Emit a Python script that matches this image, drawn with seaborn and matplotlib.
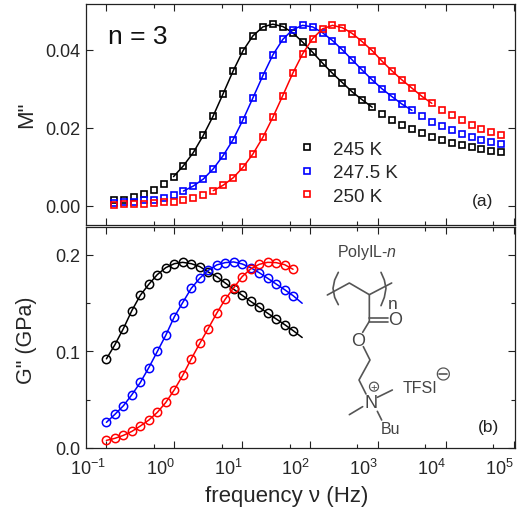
import seaborn as sns
import matplotlib.pyplot as plt
import pandas as pd
from matplotlib.lines import Line2D
from matplotlib.patches import Arc
from matplotlib.ticker import FixedLocator, NullFormatter

sns.set_style("white")
plt.rcParams['font.family'] = ['Liberation Sans', 'DejaVu Sans']
plt.rcParams['mathtext.fontset'] = 'custom'
plt.rcParams['mathtext.rm'] = 'Liberation Sans'
plt.rcParams['mathtext.it'] = 'Liberation Sans:italic'
plt.rcParams['mathtext.default'] = 'rm'

W, H = 518, 510

# M'' panel data
freq_m = [0.129, 0.181, 0.253, 0.354, 0.496, 0.695, 0.974, 1.364, 1.91, 2.68,
          3.75, 5.25, 7.36, 10.3, 14.4, 20.2, 28.3, 39.7, 55.6, 77.8,
          109, 153, 214, 300, 420, 588, 824, 1154, 1617, 2265,
          3173, 4444, 6226, 8721, 12217, 17113, 23972, 33580, 47040, 65900]
m_245 = [.0013, .0015, .0021, .0030, .0040, .0056, .0074, .0102, .0136, .0180,
         .0230, .0287, .0345, .0397, .0435, .0458, .0465, .0459, .0443, .0419,
         .0393, .0365, .0339, .0315, .0291, .0271, .0252, .0235, .0220, .0207,
         .0196, .0185, .0176, .0168, .0161, .0155, .0149, .0144, .0140, .0136]
m_2475 = [.0007, .0009, .0010, .0013, .0015, .0020, .0026, .0037, .0050, .0068,
          .0094, .0128, .0169, .0220, .0276, .0333, .0386, .0426, .0451, .0462,
          .0458, .0443, .0423, .0399, .0373, .0347, .0322, .0299, .0279, .0260,
          .0244, .0229, .0215, .0203, .0193, .0184, .0175, .0168, .0162, .0157]
m_250 = [.0002, .0003, .0003, .0004, .0006, .0008, .0010, .0015, .0020, .0027,
         .0038, .0052, .0071, .0098, .0132, .0175, .0226, .0282, .0339, .0389,
         .0428, .0453, .0462, .0456, .0441, .0420, .0397, .0370, .0345, .0322,
         .0301, .0280, .0262, .0245, .0232, .0219, .0207, .0197, .0188, .0180]

# G'' panel data
freq_g = [0.1, 0.133, 0.178, 0.237, 0.316, 0.422, 0.562, 0.75, 1, 1.33, 1.78, 2.37,
          3.16, 4.22, 5.62, 7.5, 10, 13.3, 17.8, 23.7, 31.6, 42.2, 56.2]
g_245 = [.0924, .1069, .1238, .1424, .1583, .1697, .1797, .1869, .1910, .1924, .1910, .1880,
         .1824, .1776, .1710, .1645, .1583, .1520, .1459, .1397, .1338, .1279, .1217]
g_2475 = [.0266, .0348, .0438, .0552, .0679, .0834, .1000, .1169, .1359, .1507, .1655, .1759,
          .1841, .1897, .1921, .1928, .1907, .1869, .1817, .1759, .1700, .1641, .1579]
g_250 = [.0079, .0100, .0131, .0172, .0228, .0290, .0369, .0472, .0603, .0752, .0924, .1083,
         .1238, .1397, .1541, .1659, .1776, .1855, .1903, .1924, .1921, .1900, .1852]
# fit lines run a little past the last symbol
fit_end_freq = 76.6
fit_end_245 = .1145
fit_end_2475 = .1500

labels = ['245 K', '247.5 K', '250 K']
colors = ['black', '#0000ff', '#ff0000']
m_series = [m_245, m_2475, m_250]
g_series = [g_245, g_2475, g_250]
m_fit_range = [(6, 27), (7, 31), (10, 33)]

fig = plt.figure(figsize=(W / 100, H / 100), dpi=100)
ax_a = fig.add_axes([86 / W, 1 - 226 / H, 428.5 / W, 221.5 / H])
ax_b = fig.add_axes([86 / W, 1 - 449 / H, 428.5 / W, 220.7 / H])

# top panel
for vals, col, lab, (i0, i1) in zip(m_series, colors, labels, m_fit_range):
    df = pd.DataFrame({'f': freq_m, 'y': vals})
    sns.lineplot(data=df.iloc[i0:i1], x='f', y='y', color=col, lw=1.1, ax=ax_a,
                 estimator=None, legend=False)
    sns.lineplot(data=df, x='f', y='y', ax=ax_a, estimator=None, linestyle='', label=lab,
                 marker='s', markersize=5.0, markerfacecolor='none', markeredgecolor=col,
                 markeredgewidth=1.2, color=col)

# bottom panel
fit_ends = [fit_end_245, fit_end_2475, None]
for vals, col, end in zip(g_series, colors, fit_ends):
    df = pd.DataFrame({'f': freq_g, 'y': vals})
    line_df = df if end is None else pd.concat(
        [df, pd.DataFrame({'f': [fit_end_freq], 'y': [end]})])
    sns.lineplot(data=line_df, x='f', y='y', color=col, lw=1.1, ax=ax_b,
                 estimator=None, legend=False)
    sns.lineplot(data=df, x='f', y='y', ax=ax_b, estimator=None, linestyle='',
                 marker='o', markersize=6.0, markerfacecolor='none', markeredgecolor=col,
                 markeredgewidth=1.1, color=col, legend=False)

major_x = [0.1, 1, 10, 100, 1000, 10000, 100000]
minor_x = [0.5, 5, 50, 500, 5000, 50000]
for ax in (ax_a, ax_b):
    ax.set_xscale('log')
    ax.set_xlim(0.05, 103000)
    ax.xaxis.set_major_locator(FixedLocator(major_x))
    ax.xaxis.set_minor_locator(FixedLocator(minor_x))
    ax.xaxis.set_minor_formatter(NullFormatter())
    ax.tick_params(which='major', direction='in', length=5, width=0.8, top=True, right=True,
                   left=True, bottom=True, labelsize=13, color='#222222', pad=4)
    ax.tick_params(which='minor', direction='in', length=3, width=0.8, top=True, right=True,
                   left=True, bottom=True, color='#222222')
    for s in ax.spines.values():
        s.set_visible(True)
        s.set_linewidth(0.9)
        s.set_color('#222222')
    ax.set_xlabel('')
    ax.set_ylabel('')

ax_a.set_ylim(-0.005, 0.0518)
ax_a.set_yticks([0.00, 0.02, 0.04])
ax_a.set_yticklabels(['0.00', '0.02', '0.04'])
ax_a.tick_params(axis='x', labelbottom=False)

ax_b.set_ylim(0, 0.2287)
ax_b.set_yticks([0.0, 0.1, 0.2])
ax_b.set_yticklabels(['0.0', '0.1', '0.2'])
ax_b.yaxis.set_minor_locator(FixedLocator([0.05, 0.15]))
ax_b.set_xticklabels(['$10^{-1}$', '$10^{0}$', '$10^{1}$', '$10^{2}$', '$10^{3}$', '$10^{4}$', '$10^{5}$'],
                      ha='right')
ax_b.tick_params(axis='x', which='major', pad=7)

ax_a.set_ylabel('M"', fontsize=16)
ax_b.set_ylabel('G" (GPa)', fontsize=15.5)
ax_b.set_xlabel('frequency \u03bd (Hz)', fontsize=16)
ax_a.yaxis.set_label_coords(37 / W, 1 - 115 / H, transform=fig.transFigure)
ax_b.yaxis.set_label_coords(37 / W, 1 - 340 / H, transform=fig.transFigure)
ax_b.xaxis.set_label_coords(287 / W, 1 - 486 / H, transform=fig.transFigure)

leg = ax_a.legend(loc='upper left', bbox_to_anchor=(292 / W, 1 - 141.5 / H),
                  bbox_transform=fig.transFigure, frameon=False, fontsize=13.5, numpoints=1,
                  labelspacing=0.34, handlelength=1.6, handletextpad=0.6,
                  borderpad=0, borderaxespad=0)

fig.text(108 / W, 1 - 37 / H, 'n = 3', fontsize=19, va='center', color='#111111')
fig.text(472 / W, 1 - 202 / H, '(a)', fontsize=12.5, va='center', color='#222222')
fig.text(478 / W, 1 - 428 / H, '(b)', fontsize=12.5, va='center', color='#222222')


# chemical structure, drawn in figure coordinates
def px(x, y):
    return ((300 + x / 3) / W, 1 - (225 + y / 3) / H)


grey = '#555555'
bonds = [
    [(82, 213), (148, 177), (208, 212), (275, 177)],
    [(208, 212), (208, 292), (188, 325)],
    [(208, 293), (264, 293)],
    [(208, 281), (264, 281)],
    [(190, 368), (210, 408), (177, 468), (198, 510)],
    [(232, 520), (277, 498)],
    [(188, 548), (148, 572)],
    [(232, 562), (245, 588)],
    [(115, 145), (104, 168), (99, 193), (104, 220), (115, 242)],
    [(243, 145), (253, 168), (258, 193), (253, 220), (243, 245)],
    [(418, 450), (442, 450)],
]
for b in bonds:
    xs = [px(*p)[0] for p in b]
    ys = [px(*p)[1] for p in b]
    fig.add_artist(Line2D(xs, ys, color=grey, lw=1.2))

chem = dict(color='#444444', ha='center', va='center')
fig.text(*px(200, 82), 'PolyIL-$\\mathit{n}$', fontsize=11.5, **chem)
fig.text(*px(277, 238), 'n', fontsize=12.5, **chem)
fig.text(*px(285, 287), 'O', fontsize=13, **chem)
fig.text(*px(173, 350), 'O', fontsize=13, **chem)
fig.text(*px(212, 537), 'N', fontsize=13, **chem)
fig.text(*px(271, 613), 'Bu', fontsize=11.5, **chem)
fig.text(*px(359, 491), 'TFSI', fontsize=11.5, **chem)
fig.text(*px(222, 488), '+', fontsize=8, **chem)
for (cx, cy), r in [((430, 450), 6), ((222, 488), 4.5)]:
    fig.add_artist(Arc(px(cx, cy), 2 * r / W, 2 * r / H, theta1=0, theta2=360, color=grey, lw=0.9,
                       transform=fig.transFigure))

fig.savefig('out.png', dpi=100)
plt.close()
